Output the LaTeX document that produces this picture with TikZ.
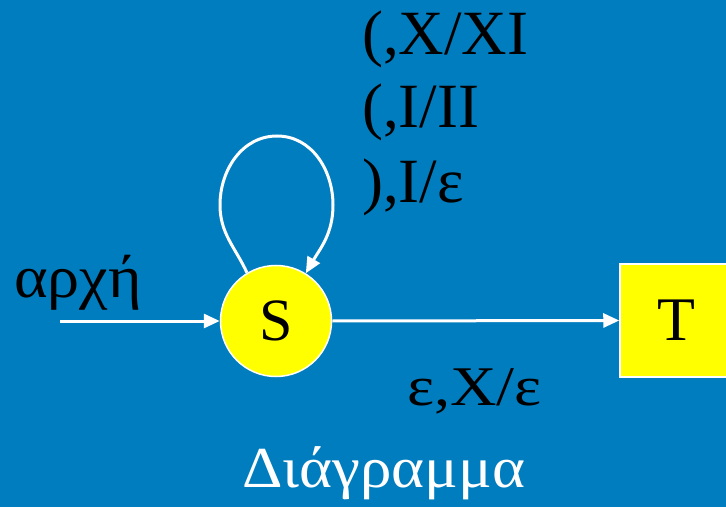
\documentclass[tikz,border=0pt]{standalone}
\usepackage{fontspec}
\setmainfont{Liberation Serif}
\usetikzlibrary{arrows.meta}
\definecolor{bgblue}{RGB}{0,125,190}
\definecolor{stateyellow}{RGB}{255,255,0}
\tikzset{
  conn/.style={draw=white, line width=3pt, -{Triangle[length=16pt,width=14pt]}},
  lbl/.style={inner sep=0pt, anchor=base west, text=black},
}
\newcommand{\fs}[1]{\fontsize{#1}{#1}\selectfont}
\begin{document}
\begin{tikzpicture}[x=1pt,y=1pt]
\fill[bgblue] (0,0) rectangle (726,507);
\useasboundingbox (0,0) rectangle (726,507);
\node[circle, fill=stateyellow, draw=white, line width=1.5pt, minimum size=111pt, inner sep=0pt, font=\fs{60}] (S) at (276,186) {S};
\node[rectangle, fill=stateyellow, draw=white, line width=1.5pt, minimum width=112pt, minimum height=113pt, inner sep=0pt, font=\fs{62}] (T) at (676,186.5) {T};
\coordinate (start) at (60,186);
\coordinate (lleft) at (220,302);
\coordinate (ltop) at (277,371);
\coordinate (lright) at (333,302);
\draw[conn] (start) -- (S.west);
\draw[conn] (S.east) -- (T.west);
\draw[conn] (S.121) to[out=115,in=270] (lleft) to[out=90,in=180] (ltop) to[out=0,in=90] (lright) to[out=270,in=60] (S.58);
\node[lbl, font=\fs{63}] (l1) at (362,452) {(,X/XI};
\node[lbl, font=\fs{63}] (l2) at (362,379) {(,I/II};
\node[lbl, font=\fs{63}] (l3) at (362,305) {),I/ε};
\node[lbl, font=\fs{60}, xscale=1.07] (arch) at (14,210) {αρχή};
\node[lbl, font=\fs{56}, xscale=1.15] (eps) at (407,102) {ε,X/ε};
\node[lbl, font=\fs{58}, xscale=1.085, text=white] (title) at (242,20) {Διάγραμμα};
\end{tikzpicture}
\end{document}
